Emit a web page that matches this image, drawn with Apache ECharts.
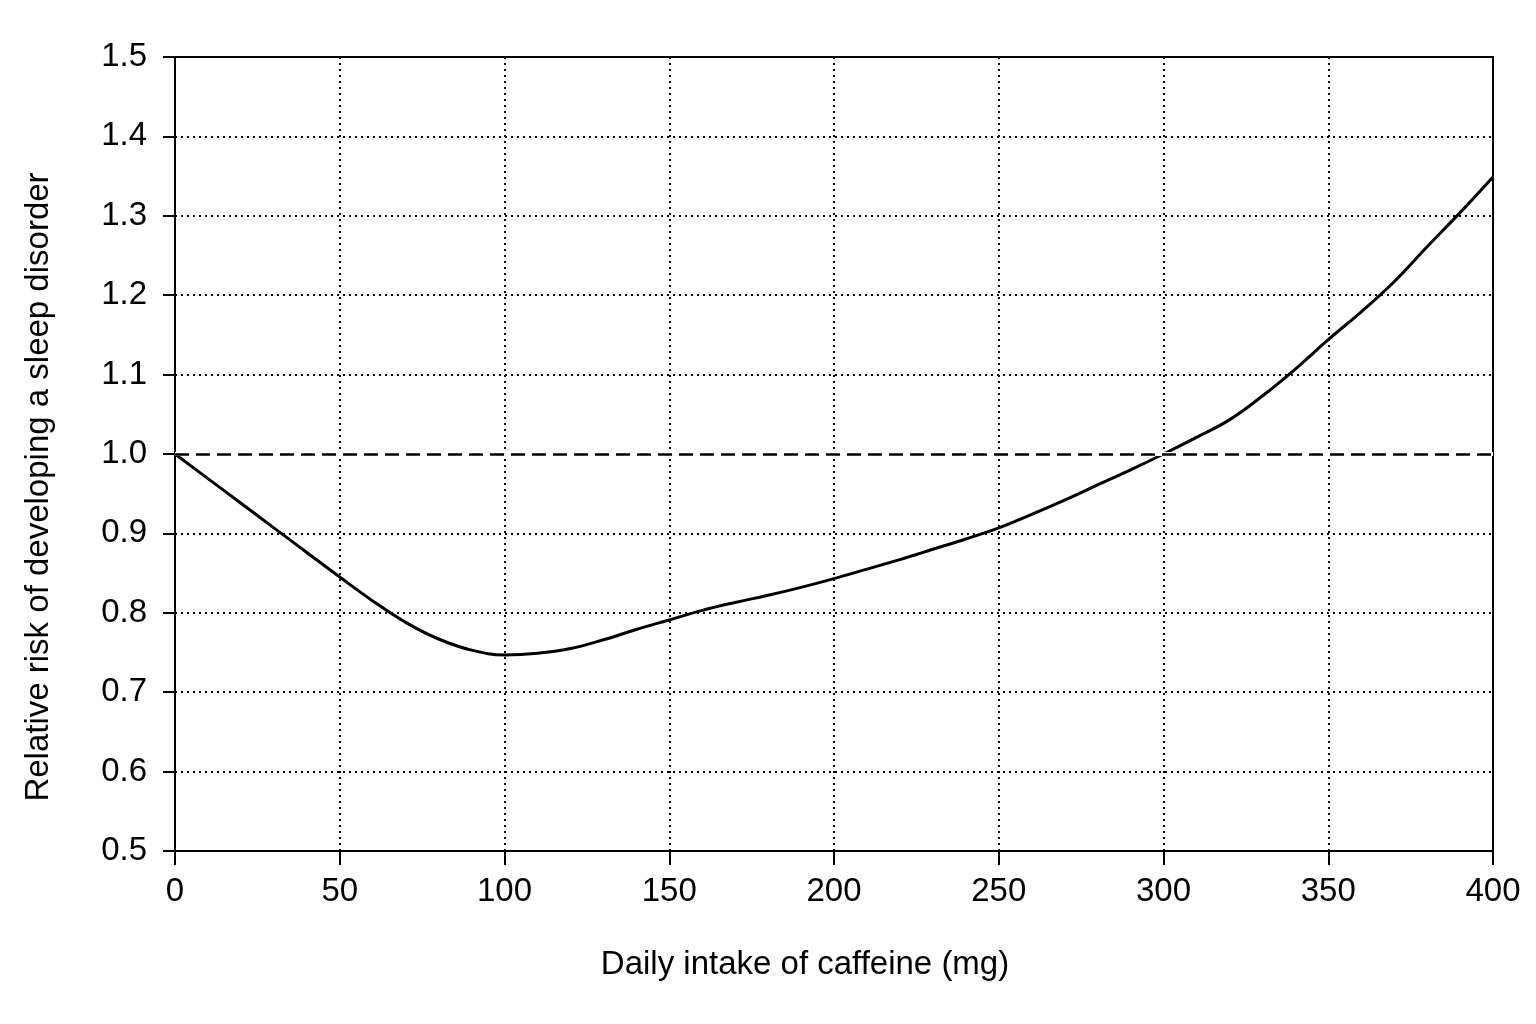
<!DOCTYPE html>
<html>
<head>
<meta charset="utf-8">
<script src="https://cdn.jsdelivr.net/npm/echarts@6/dist/echarts.min.js"></script>
<style>
html,body{margin:0;padding:0;background:#fff;}
#chart{width:1536px;height:1024px;}
</style>
</head>
<body>
<div id="chart"></div>
<script>
// Data (every 10 mg)
const caffeineMg = [0, 10, 20, 30, 40, 50, 60, 70, 80, 90, 100, 110, 120, 130, 140, 150, 160, 170, 180, 190, 200, 210, 220, 230, 240, 250, 260, 270, 280, 290, 300, 310, 320, 330, 340, 350, 360, 370, 380, 390, 400];
const relativeRisk = [1.000, 0.969, 0.938, 0.907, 0.876, 0.845, 0.815, 0.788, 0.767, 0.753, 0.747, 0.749, 0.755, 0.766, 0.779, 0.791, 0.803, 0.813, 0.822, 0.832, 0.843, 0.855, 0.867, 0.880, 0.893, 0.907, 0.924, 0.942, 0.961, 0.980, 1.000, 1.021, 1.043, 1.073, 1.107, 1.144, 1.179, 1.217, 1.261, 1.304, 1.349];
const referenceRisk = 1.0;
const xAxisTitle = 'Daily intake of caffeine (mg)';
const yAxisTitle = 'Relative risk of developing a sleep disorder';

const seriesData = caffeineMg.map((x, i) => [x, relativeRisk[i]]);

const tickFont = '"Liberation Sans", Arial, Helvetica, sans-serif';
const titleFont = '"Liberation Sans", Arial, Helvetica, sans-serif';

const chart = echarts.init(document.getElementById('chart'), null, {renderer: 'canvas'});
chart.setOption({
  animation: false,
  backgroundColor: '#ffffff',
  grid: {
    left: 175, right: 43, top: 57, bottom: 173,
    show: true, borderColor: '#000', borderWidth: 2, backgroundColor: 'transparent'
  },
  xAxis: {
    type: 'value', min: 0, max: 400, interval: 50,
    name: xAxisTitle, nameLocation: 'middle', nameGap: 97,
    nameTextStyle: {fontFamily: titleFont, fontSize: 33, color: '#000', padding: [0, 58, 0, 0]},
    axisLine: {show: true, lineStyle: {color: '#000', width: 2}},
    axisTick: {show: true, length: 14, lineStyle: {color: '#000', width: 2}},
    axisLabel: {fontFamily: tickFont, fontSize: 33, color: '#000', margin: 24},
    splitLine: {show: true, lineStyle: {color: '#000', width: 2, type: [2, 4]}}
  },
  yAxis: {
    type: 'value', min: 0.5, max: 1.5, interval: 0.1,
    name: yAxisTitle, nameLocation: 'middle', nameGap: 120, nameRotate: 90,
    nameTextStyle: {fontFamily: titleFont, fontSize: 33, color: '#000', padding: [0, 66, 0, 0]},
    axisLine: {show: true, lineStyle: {color: '#000', width: 2}},
    axisTick: {show: true, length: 12, lineStyle: {color: '#000', width: 2}},
    axisLabel: {fontFamily: tickFont, fontSize: 33, color: '#000', margin: 28,
      formatter: v => v.toFixed(1)},
    splitLine: {show: true, lineStyle: {color: '#000', width: 2, type: [2, 4]}}
  },
  series: [{
    type: 'line',
    data: seriesData,
    smooth: 0.4,
    showSymbol: false,
    lineStyle: {color: '#000', width: 3},
    z: 3,
    markLine: {
      silent: true,
      symbol: ['none', 'none'],
      label: {show: false},
      lineStyle: {color: '#000', width: 2.5, type: [14, 7]},
      data: [
        {yAxis: referenceRisk, lineStyle: {color: '#fff', width: 4, type: 'solid'}},
        {yAxis: referenceRisk}
      ]
    }
  }]
});
</script>
</body>
</html>
